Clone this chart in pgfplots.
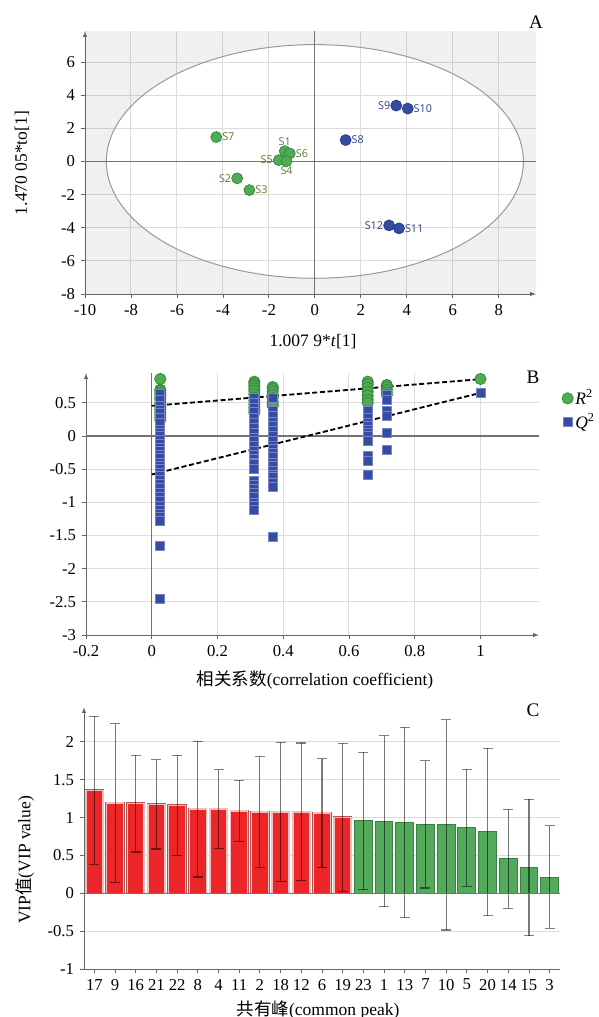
\documentclass[border=0pt]{standalone}
\usepackage{pgfplots}
\pgfplotsset{compat=1.18}
\usepackage{fontspec}
\setmainfont{Liberation Serif}
\newfontfamily\cjk{Noto Sans CJK SC}
\newfontfamily\lab{Open Sans}
\usetikzlibrary{arrows.meta}

\definecolor{ptgreen}{RGB}{78,172,84}
\definecolor{ptgreenD}{RGB}{52,130,58}
\definecolor{ptblue}{RGB}{54,76,164}
\definecolor{ptblueD}{RGB}{38,52,128}
\definecolor{ptblueL}{RGB}{120,132,196}
\definecolor{labgreen}{RGB}{90,122,50}
\definecolor{labblue}{RGB}{48,60,140}
\definecolor{barred}{RGB}{236,38,40}
\definecolor{barredD}{RGB}{176,84,84}
\definecolor{barredL}{RGB}{242,190,190}
\definecolor{bargreen}{RGB}{82,170,90}
\definecolor{bargreenD}{RGB}{58,128,66}
\definecolor{gridc}{RGB}{220,220,220}

\pgfplotsset{
  every axis/.append style={
    scale only axis, anchor=south west,
    axis lines=left,
    axis line style={black!60, line width=0.6pt, -{Latex[length=3.5pt,width=2.6pt]}},
    tick align=outside, major tick length=2.5pt,
    tick style={black!60, line width=0.5pt},
    tick label style={font=\fontsize{10}{12}\selectfont},
    /pgf/number format/assume math mode=true,
    grid style={gridc, line width=0.6pt},
  },
  errstyle/.style={
    error bars/.cd, y dir=both, y explicit,
    error bar style={black, opacity=0.5, line width=0.65pt},
    error mark options={black, opacity=0.5, line width=0.65pt, mark size=3pt, rotate=90},
  },
}

% VIP values (bar height, half error)
\pgfplotstableread{
x v e
0 1.36 0.975
1 1.19 1.05
2 1.185 0.64
3 1.175 0.59
4 1.16 0.665
5 1.11 0.895
6 1.11 0.52
7 1.09 0.405
8 1.075 0.73
9 1.075 0.92
10 1.075 0.91
11 1.06 0.72
12 1.00 0.98
}\vipred
\pgfplotstableread{
x v e
13 0.955 0.905
14 0.95 1.13
15 0.935 1.255
16 0.91 0.84
17 0.905 1.39
18 0.865 0.77
19 0.81 1.105
20 0.455 0.655
21 0.34 0.9
22 0.215 0.675
}\vipgreen

\begin{document}
\begin{tikzpicture}
\useasboundingbox (0,0) rectangle (358.8pt,-610.2pt);

% ---------- A: score plot ----------
\begin{axis}[
  at={(51pt,-176.4pt)}, width=270.6pt, height=157.8pt,
  xmin=-10, xmax=9.62, ymin=-8, ymax=7.87,
  xtick={-10,-8,...,8}, ytick={-8,-6,...,6},
  grid=major,
  visualization depends on={value \thisrow{a}\as\anc},
]
\fill[black, opacity=0.06, even odd rule]
  (axis cs:-10,-8) rectangle (axis cs:9.62,7.87)
  (axis cs:0,0) ellipse [x radius=9.07, y radius=7.05];
\draw[black!40, line width=0.6pt] (axis cs:0,0) ellipse [x radius=9.07, y radius=7.05];
\draw[black!55, line width=0.7pt] (axis cs:0,-8) -- (axis cs:0,7.87);
\draw[black!55, line width=0.7pt] (axis cs:-10,0) -- (axis cs:9.62,0);
\addplot[only marks, mark=*, mark size=3.3pt,
  mark options={fill=ptgreen, draw=ptgreenD, line width=0.4pt},
  point meta=explicit symbolic, nodes near coords,
  every node near coord/.append style={anchor=\anc, text=labgreen, inner sep=3.4pt,
    font=\lab\fontsize{6.5}{7}\selectfont}]
  table[meta=s]{
x y s a
-4.29 1.47 S7 west
-1.31 0.62 S1 south
-1.09 0.48 S6 west
-1.57 0.08 S5 east
-1.23 0.02 S4 north
-3.38 -1.02 S2 east
-2.85 -1.73 S3 west
};
\addplot[only marks, mark=*, mark size=3.3pt,
  mark options={fill=ptblue, draw=ptblueD, line width=0.4pt},
  point meta=explicit symbolic, nodes near coords,
  every node near coord/.append style={anchor=\anc, text=labblue, inner sep=3.4pt,
    font=\lab\fontsize{6.5}{7}\selectfont}]
  table[meta=s]{
x y s a
1.34 1.29 S8 west
3.54 3.37 S9 east
4.04 3.19 S10 west
3.23 -3.86 S12 east
3.66 -4.04 S11 west
};
\end{axis}

% ---------- B: permutation test ----------
\begin{axis}[
  at={(51.6pt,-381pt)}, width=271.8pt, height=157.2pt,
  xmin=-0.2, xmax=1.178, ymin=-3, ymax=0.95,
  xtick={-0.2,0,0.2,0.4,0.6,0.8,1},
  ytick={-3,-2.5,-2,-1.5,-1,-0.5,0,0.5},
  grid=major,
  legend style={at={(1.05,0.945)}, anchor=north west, draw=none, fill=none,
    font=\fontsize{10.5}{12}\selectfont, inner sep=0pt, row sep=1.5pt,
    nodes={inner sep=1.2pt}},
  legend cell align=left,
  legend image code/.code={\draw[#1] plot coordinates {(0pt,0pt)};},
]
\draw[black!55, line width=0.7pt] (axis cs:-0.2,0) -- (axis cs:1.178,0);
\draw[black!55, line width=0.7pt] (axis cs:0,-3) -- (axis cs:0,0.95);
\addplot[only marks, mark=*, mark size=3.4pt,
  mark options={fill=ptgreen, draw=ptgreenD, line width=0.4pt}] coordinates {
(0.026,0.86) (0.026,0.70) (0.026,0.68) (0.026,0.65) (0.026,0.62) (0.026,0.58)
(0.026,0.55) (0.026,0.50) (0.026,0.47) (0.026,0.44) (0.026,0.40) (0.026,0.36)
(0.026,0.32) (0.026,0.28) (0.026,0.24)
(0.312,0.82) (0.312,0.79) (0.312,0.76) (0.312,0.72) (0.312,0.68) (0.312,0.63)
(0.312,0.58) (0.312,0.53) (0.312,0.48) (0.312,0.43) (0.312,0.39) (0.312,0.35)
(0.368,0.74) (0.368,0.71) (0.368,0.67) (0.368,0.62) (0.368,0.57) (0.368,0.52)
(0.368,0.48) (0.368,0.45)
(0.657,0.82) (0.657,0.78) (0.657,0.73) (0.657,0.67) (0.657,0.61) (0.657,0.55)
(0.657,0.50)
(0.715,0.77) (0.715,0.74) (0.715,0.70) (0.715,0.66) (0.715,0.62)
(1,0.86)
};
\addlegendentry{\textit{R}\textsuperscript{2}}
\addplot[only marks, mark=square*, mark size=2.7pt,
  mark options={fill=ptblue, draw=ptblueL, line width=0.4pt}] coordinates {
(0.026,0.63) (0.026,0.55) (0.026,0.45) (0.026,0.40) (0.026,0.35) (0.026,0.28)
(0.026,0.20) (0.026,0.10) (0.026,0.05) (0.026,0.00) (0.026,-0.05) (0.026,-0.12)
(0.026,-0.18) (0.026,-0.22) (0.026,-0.28) (0.026,-0.33) (0.026,-0.40) (0.026,-0.45)
(0.026,-0.50) (0.026,-0.55) (0.026,-0.60) (0.026,-0.66) (0.026,-0.72) (0.026,-0.78)
(0.026,-0.85) (0.026,-0.92) (0.026,-0.98) (0.026,-1.05) (0.026,-1.12) (0.026,-1.18)
(0.026,-1.22) (0.026,-1.28) (0.026,-1.65) (0.026,-2.46)
(0.312,0.57) (0.312,0.50) (0.312,0.42) (0.312,0.37) (0.312,0.28) (0.312,0.20)
(0.312,0.12) (0.312,0.05) (0.312,-0.02) (0.312,-0.08) (0.312,-0.15) (0.312,-0.22)
(0.312,-0.28) (0.312,-0.35) (0.312,-0.40) (0.312,-0.42) (0.312,-0.49)
(0.312,-0.67) (0.312,-0.73) (0.312,-0.80) (0.312,-0.86) (0.312,-0.92) (0.312,-1.00)
(0.312,-1.06) (0.312,-1.12)
(0.368,0.58) (0.368,0.38) (0.368,0.30) (0.368,0.22) (0.368,0.15) (0.368,0.08)
(0.368,0.00) (0.368,-0.08) (0.368,-0.15) (0.368,-0.20) (0.368,-0.26) (0.368,-0.32)
(0.368,-0.40) (0.368,-0.45) (0.368,-0.52) (0.368,-0.58) (0.368,-0.62) (0.368,-0.70)
(0.368,-0.77) (0.368,-1.52)
(0.657,0.38) (0.657,0.28) (0.657,0.20) (0.657,0.15) (0.657,0.10) (0.657,0.05)
(0.657,0.00) (0.657,-0.07) (0.657,-0.30) (0.657,-0.38) (0.657,-0.58)
(0.715,0.62) (0.715,0.55) (0.715,0.38) (0.715,0.30) (0.715,0.05) (0.715,-0.21)
(1,0.65)
};
\addlegendentry{\textit{Q}\textsuperscript{2}}
\addplot[forget plot, black, line width=1.1pt, dash pattern=on 3pt off 1.6pt]
  coordinates {(0,0.455) (1,0.857)};
\addplot[forget plot, black, line width=1.1pt, dash pattern=on 3pt off 1.6pt]
  coordinates {(0,-0.58) (1,0.65)};
\end{axis}

% ---------- C: VIP ----------
\begin{axis}[
  at={(50.4pt,-581.4pt)}, width=285.6pt, height=157.2pt,
  xmin=-0.5, xmax=22.5, ymin=-1, ymax=2.46,
  xtick={0,...,22},
  xticklabels={17,9,16,21,22,8,4,11,2,18,12,6,19,23,1,13,7,10,5,20,14,15,3},
  ytick={-1,-0.5,0,0.5,1,1.5,2},
  ymajorgrids,
  x axis line style={-},
]
% dark rim of the red bars
\addplot[ybar, bar width=0.82, bar shift=0pt, forget plot,
  fill=barredD, draw=barredD, line width=1.4pt]
  table[x=x, y=v]{\vipred};
% red bars with light rim and error bars
\addplot[ybar, bar width=0.82, bar shift=0pt,
  fill=barred, draw=barredL, line width=0.9pt, errstyle]
  table[x=x, y=v, y error=e]{\vipred};
\addplot[ybar, bar width=0.86, bar shift=0pt, fill=bargreen, draw=bargreenD,
  line width=0.6pt, errstyle]
  table[x=x, y=v, y error=e]{\vipgreen};
\draw[black!55, line width=0.7pt] (axis cs:-0.5,0) -- (axis cs:22.5,0);
\end{axis}

% ---------- labels ----------
\node[font=\fontsize{11.5}{13}\selectfont] at (321.6pt,-13.2pt) {A};
\node[font=\fontsize{11.5}{13}\selectfont] at (319.8pt,-226.2pt) {B};
\node[font=\fontsize{11.5}{13}\selectfont] at (319.8pt,-426pt) {C};
\node[font=\fontsize{10.5}{12}\selectfont] at (187.8pt,-205.2pt) {1.007 9*\textit{t}[1]};
\node[font=\fontsize{10.5}{12}\selectfont, rotate=90] at (13.2pt,-97.8pt) {1.470 05*to[1]};
\node[font=\fontsize{10.5}{12}\selectfont] at (189pt,-408pt) {{\cjk 相关系数}(correlation coefficient)};
\node[font=\fontsize{10.5}{12}\selectfont, rotate=90] at (15pt,-516pt) {VIP{\cjk 值}(VIP value)};
\node[font=\fontsize{10.5}{12}\selectfont] at (190.8pt,-606pt) {{\cjk 共有峰}(common peak)};
\end{tikzpicture}
\end{document}
